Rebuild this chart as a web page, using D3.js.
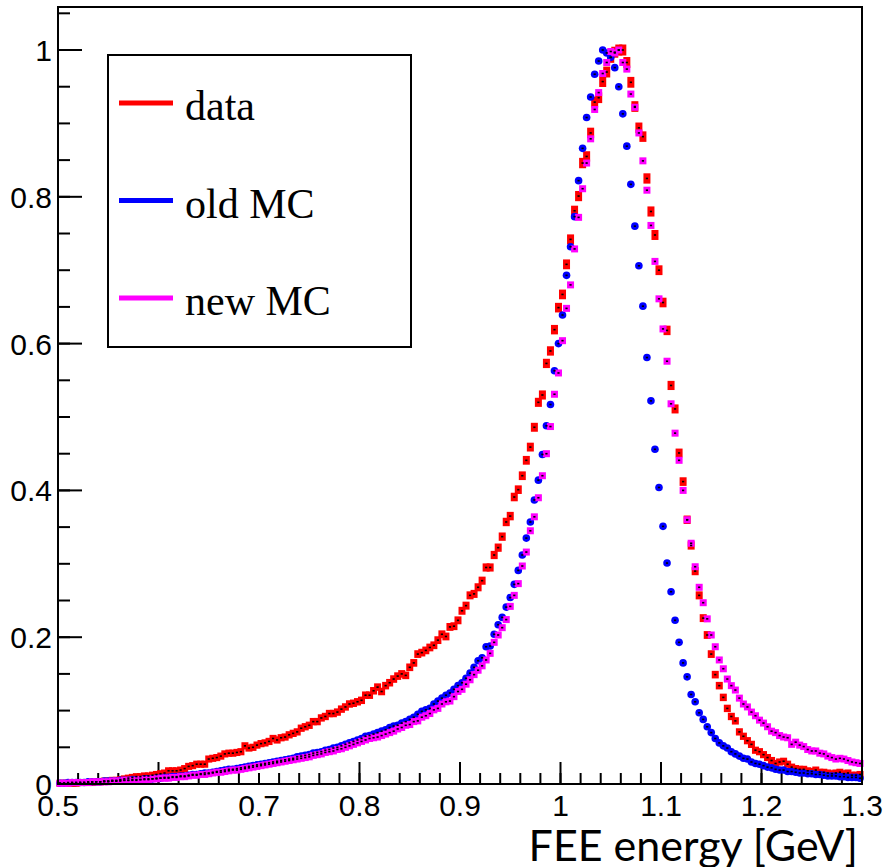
<!DOCTYPE html>
<html>
<head>
<meta charset="utf-8">
<script src="https://cdn.jsdelivr.net/npm/d3@7"></script>
<style>
  body { margin: 0; background: #fff; }
  svg { display: block; }
  .frame { fill: none; stroke: #000; stroke-width: 2; }
  .tick { stroke: #000; stroke-width: 2; }
  .ticklabel { font-family: "Liberation Sans", Arial, sans-serif; font-size: 30px; fill: #000; }
  .title { font-family: Lato, "Open Sans", sans-serif; font-size: 43px; fill: #000; }
  .legtext { font-family: "Liberation Serif", "Times New Roman", serif; font-size: 42px; fill: #000; }
</style>
</head>
<body>
<svg id="chart" width="886" height="867"></svg>
<script>
// histogram binning: 200 bins from 0.5 to 1.3 GeV
const binLow = 0.5;
const binWidth = 0.004;

const dataValues = [
  0.001,0.001,0.001,0.001,0.001,0.002,0.002,0.002,0.002,0.003,
  0.003,0.004,0.004,0.005,0.005,0.006,0.007,0.008,0.009,0.010,
  0.010,0.011,0.011,0.012,0.013,0.014,0.015,0.018,0.018,0.018,
  0.019,0.021,0.024,0.025,0.027,0.027,0.027,0.034,0.035,0.036,
  0.038,0.041,0.042,0.042,0.043,0.044,0.052,0.049,0.050,0.053,
  0.055,0.056,0.058,0.062,0.060,0.063,0.064,0.067,0.069,0.071,
  0.076,0.078,0.080,0.085,0.085,0.090,0.092,0.096,0.096,0.098,
  0.102,0.105,0.109,0.110,0.112,0.114,0.121,0.121,0.127,0.132,
  0.126,0.134,0.138,0.143,0.147,0.150,0.148,0.159,0.165,0.177,
  0.179,0.182,0.186,0.189,0.196,0.204,0.201,0.214,0.215,0.223,
  0.236,0.243,0.257,0.259,0.268,0.277,0.295,0.295,0.312,0.322,
  0.337,0.357,0.365,0.391,0.401,0.420,0.441,0.459,0.486,0.520,
  0.530,0.573,0.590,0.619,0.649,0.667,0.708,0.742,0.781,0.801,
  0.846,0.855,0.887,0.929,0.935,0.957,0.970,0.990,0.997,1.000,
  1.000,0.983,0.956,0.923,0.894,0.882,0.825,0.780,0.748,0.700,
  0.656,0.618,0.543,0.511,0.451,0.412,0.360,0.325,0.290,0.257,
  0.226,0.203,0.177,0.149,0.134,0.118,0.103,0.092,0.086,0.071,
  0.065,0.059,0.054,0.046,0.044,0.040,0.036,0.032,0.028,0.030,
  0.031,0.027,0.023,0.021,0.020,0.020,0.018,0.017,0.019,0.016,
  0.016,0.015,0.014,0.015,0.016,0.014,0.015,0.012,0.012,0.013
];

const oldMcValues = [
  0.001,0.001,0.002,0.002,0.002,0.002,0.002,0.003,0.003,0.003,
  0.003,0.004,0.004,0.004,0.004,0.005,0.005,0.005,0.006,0.006,
  0.006,0.007,0.007,0.007,0.008,0.008,0.009,0.009,0.010,0.010,
  0.011,0.011,0.012,0.013,0.013,0.014,0.015,0.015,0.016,0.017,
  0.018,0.019,0.020,0.020,0.021,0.022,0.023,0.024,0.025,0.026,
  0.027,0.028,0.029,0.030,0.031,0.032,0.033,0.034,0.035,0.037,
  0.038,0.039,0.040,0.042,0.043,0.044,0.046,0.047,0.049,0.050,
  0.052,0.054,0.056,0.058,0.060,0.062,0.065,0.066,0.068,0.070,
  0.072,0.074,0.077,0.079,0.080,0.083,0.085,0.088,0.091,0.095,
  0.099,0.101,0.103,0.109,0.113,0.117,0.121,0.124,0.129,0.134,
  0.138,0.144,0.151,0.159,0.168,0.172,0.187,0.188,0.204,0.217,
  0.227,0.241,0.254,0.272,0.291,0.312,0.335,0.357,0.387,0.414,
  0.449,0.488,0.517,0.563,0.600,0.639,0.693,0.732,0.773,0.822,
  0.866,0.908,0.936,0.967,0.985,1.000,0.996,0.990,0.976,0.950,
  0.913,0.869,0.817,0.760,0.706,0.651,0.581,0.522,0.456,0.404,
  0.351,0.301,0.262,0.223,0.193,0.165,0.146,0.122,0.112,0.097,
  0.088,0.078,0.070,0.062,0.056,0.052,0.049,0.044,0.041,0.038,
  0.035,0.034,0.030,0.028,0.027,0.025,0.023,0.022,0.020,0.019,
  0.019,0.017,0.017,0.016,0.015,0.015,0.014,0.014,0.013,0.013,
  0.012,0.011,0.011,0.011,0.010,0.010,0.009,0.009,0.009,0.008
];

const newMcValues = [
  0.001,0.001,0.001,0.002,0.002,0.002,0.002,0.002,0.003,0.003,
  0.003,0.003,0.003,0.004,0.004,0.004,0.005,0.005,0.005,0.005,
  0.006,0.006,0.006,0.007,0.007,0.008,0.008,0.008,0.009,0.009,
  0.010,0.010,0.011,0.012,0.012,0.013,0.013,0.014,0.015,0.016,
  0.016,0.017,0.018,0.019,0.019,0.020,0.021,0.022,0.023,0.024,
  0.025,0.026,0.027,0.028,0.029,0.030,0.031,0.032,0.033,0.034,
  0.035,0.036,0.037,0.039,0.040,0.041,0.043,0.044,0.045,0.047,
  0.048,0.050,0.052,0.054,0.056,0.058,0.060,0.062,0.063,0.064,
  0.066,0.068,0.070,0.072,0.075,0.077,0.080,0.081,0.085,0.086,
  0.091,0.093,0.096,0.101,0.103,0.109,0.112,0.113,0.119,0.126,
  0.129,0.136,0.142,0.149,0.155,0.161,0.169,0.178,0.193,0.203,
  0.213,0.224,0.242,0.257,0.273,0.297,0.316,0.345,0.364,0.390,
  0.420,0.450,0.487,0.531,0.560,0.604,0.648,0.680,0.729,0.772,
  0.811,0.846,0.879,0.919,0.942,0.968,0.983,0.998,0.996,1.000,
  0.983,0.974,0.940,0.922,0.887,0.849,0.809,0.761,0.712,0.661,
  0.620,0.576,0.518,0.478,0.441,0.400,0.360,0.328,0.296,0.268,
  0.247,0.225,0.203,0.187,0.169,0.157,0.143,0.134,0.128,0.117,
  0.109,0.105,0.098,0.093,0.087,0.083,0.078,0.072,0.070,0.066,
  0.064,0.063,0.054,0.057,0.053,0.051,0.047,0.045,0.045,0.042,
  0.041,0.038,0.036,0.034,0.035,0.034,0.032,0.030,0.029,0.028
];

const xTicks = [0.5, 0.6, 0.7, 0.8, 0.9, 1.0, 1.1, 1.2, 1.3];
const xTickLabels = ["0.5", "0.6", "0.7", "0.8", "0.9", "1", "1.1", "1.2", "1.3"];
const yTicks = [0, 0.2, 0.4, 0.6, 0.8, 1.0];
const yTickLabels = ["0", "0.2", "0.4", "0.6", "0.8", "1"];
const seriesNames = ["data", "old MC", "new MC"];
const seriesColors = ["#ff0000", "#0000ff", "#ff00ff"];
const xTitle = "FEE energy [GeV]";

const drawChart = ()=>{
    let svg = d3.select("#chart");

    let margin = { top: 7, bottom: 83, left: 58, right: 24 };
    let width = svg.attr("width") - margin.left - margin.right;
    let height = svg.attr("height") - margin.top - margin.bottom;

    let g = svg.append("g").attr("transform", "translate(" + margin.left + "," + margin.top + ")");

    let xScale = d3.scaleLinear().domain([0.5, 1.3]).range([0, width]);
    let yScale = d3.scaleLinear().domain([0, 1.0586]).range([height, 0]);

    const toPoints = (values)=>values.map((v, i)=>({ x: binLow + binWidth * (i + 0.5), y: v }));

    // ticks on the inside, root style
    let xMinor = d3.range(0.5, 1.3001, 0.02);
    g.selectAll(".xminor")
    .data(xMinor)
    .enter().append("line")
    .attr("class", "tick")
    .attr("x1", (d)=>xScale(d)).attr("x2", (d)=>xScale(d))
    .attr("y1", height).attr("y2", height - 11);

    g.selectAll(".xmajor")
    .data(xTicks.filter((d)=>d > 0.55 && d < 1.25 && Math.abs(d - 0.7) > 0.01))
    .enter().append("line")
    .attr("class", "tick")
    .attr("x1", (d)=>xScale(d)).attr("x2", (d)=>xScale(d))
    .attr("y1", height).attr("y2", height - 22);

    let yMinor = d3.range(0, 1.051, 0.05);
    g.selectAll(".yminor")
    .data(yMinor)
    .enter().append("line")
    .attr("class", "tick")
    .attr("x1", 0).attr("x2", 12)
    .attr("y1", (d)=>yScale(d)).attr("y2", (d)=>yScale(d));

    g.selectAll(".ymajor")
    .data(yTicks)
    .enter().append("line")
    .attr("class", "tick")
    .attr("x1", 0).attr("x2", 24)
    .attr("y1", (d)=>yScale(d)).attr("y2", (d)=>yScale(d));

    // markers: data, old MC, new MC
    let dataPts = toPoints(dataValues);
    let oldPts = toPoints(oldMcValues);
    let newPts = toPoints(newMcValues);

    g.selectAll(".redpt")
    .data(dataPts)
    .enter().append("rect")
    .attr("x", (d)=>xScale(d.x) - 3.5)
    .attr("y", (d)=>yScale(d.y) - (3.5 + 2 * d.y))
    .attr("width", 7)
    .attr("height", (d)=>7 + 4 * d.y)
    .attr("fill", seriesColors[0]);

    g.selectAll(".bluept")
    .data(oldPts)
    .enter().append("circle")
    .attr("cx", (d)=>xScale(d.x))
    .attr("cy", (d)=>yScale(d.y))
    .attr("r", 3.8)
    .attr("fill", seriesColors[1]);

    g.selectAll(".magpt")
    .data(newPts)
    .enter().append("rect")
    .attr("x", (d)=>xScale(d.x) - 3.5)
    .attr("y", (d)=>yScale(d.y) - 3.5)
    .attr("width", 7)
    .attr("height", 7)
    .attr("fill", seriesColors[2]);

    // small black centre dots
    g.selectAll(".dot")
    .data(dataPts.concat(oldPts, newPts))
    .enter().append("rect")
    .attr("x", (d)=>xScale(d.x) - 1.1)
    .attr("y", (d)=>yScale(d.y) - 0.8)
    .attr("width", 2.2)
    .attr("height", 1.6)
    .attr("fill", "#000");

    // frame
    g.append("rect")
    .attr("class", "frame")
    .attr("x", 0).attr("y", 0)
    .attr("width", width).attr("height", height);

    // tick labels
    g.selectAll(".ylab")
    .data(yTicks)
    .enter().append("text")
    .attr("class", "ticklabel")
    .attr("x", -6)
    .attr("y", (d)=>yScale(d) + 11)
    .attr("text-anchor", "end")
    .text((d, i)=>yTickLabels[i]);

    g.selectAll(".xlab")
    .data(xTicks)
    .enter().append("text")
    .attr("class", "ticklabel")
    .attr("x", (d)=>xScale(d))
    .attr("y", height + 32)
    .attr("text-anchor", "middle")
    .text((d, i)=>xTickLabels[i]);

    g.append("text")
    .attr("class", "title")
    .attr("x", width - 4)
    .attr("y", height + 77)
    .attr("text-anchor", "end")
    .text(xTitle);

    // legend
    let leg = svg.append("g").attr("transform", "translate(108,55)");
    leg.append("rect")
    .attr("width", 303).attr("height", 292)
    .attr("fill", "#fff").attr("stroke", "#000").attr("stroke-width", 2);

    let rows = leg.selectAll(".legrow")
    .data(seriesNames)
    .enter().append("g")
    .attr("transform", (d, i)=>"translate(0," + (48 + i * 97.5) + ")");

    rows.append("line")
    .attr("x1", 11).attr("x2", 65)
    .attr("y1", 0).attr("y2", 0)
    .attr("stroke", (d, i)=>seriesColors[i])
    .attr("stroke-width", 5);

    rows.append("text")
    .attr("class", "legtext")
    .attr("x", 77)
    .attr("y", 17)
    .text((d)=>d);
}

window.onload = function(){
    drawChart();
}
</script>
</body>
</html>
